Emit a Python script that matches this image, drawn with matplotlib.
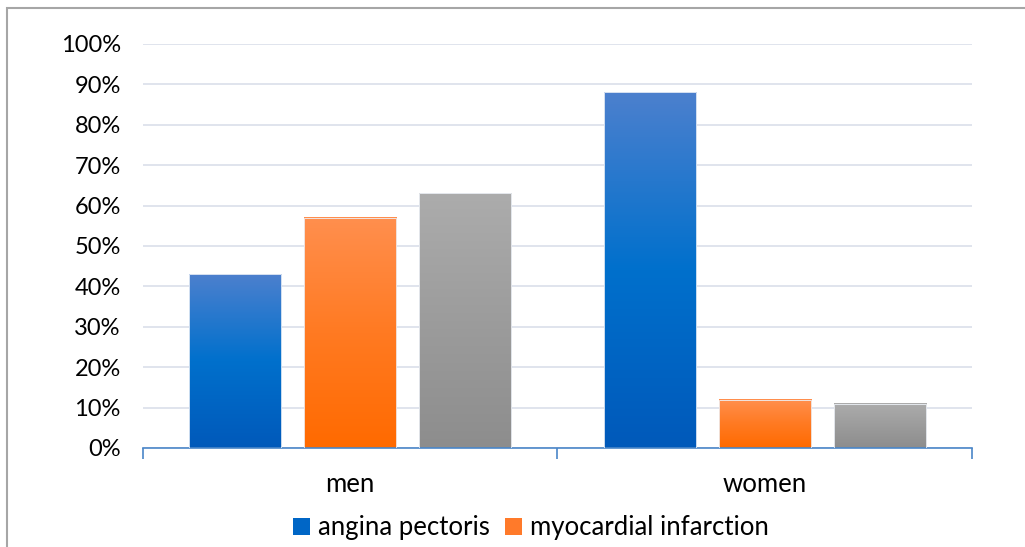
import numpy as np
import matplotlib
matplotlib.use("Agg")
import matplotlib.pyplot as plt
from matplotlib.colors import LinearSegmentedColormap
from matplotlib.patches import Patch, Rectangle

# ── Data ──────────────────────────────────────────────────────────────────
groups = ["men", "women"]
angina = [43, 88]
infarction = [57, 12]
other = [63, 11]
legend_names = ["angina pectoris", "myocardial infarction"]

plt.rcParams["font.family"] = ["Lato", "DejaVu Sans"]

# vertical gradients, bottom -> top
GRADS = [
    ["#0059ba", "#0070cc", "#4c80ce"],
    ["#ff6a00", "#ff7a22", "#ff8f4e"],
    ["#8d8d8d", "#9c9c9c", "#acacac"],
]
SOLID = ["#0066c6", "#ff7a2a"]

BAR_W = 0.222
STEP = 0.2775

fig = plt.figure(figsize=(10.25, 5.47), dpi=100)
ax = fig.add_axes([0.1395, 0.181, 0.8088, 0.7386])

series = [angina, infarction, other]
for k, (vals, stops) in enumerate(zip(series, GRADS)):
    cmap = LinearSegmentedColormap.from_list(f"g{k}", stops)
    grad = np.linspace(0, 1, 256).reshape(-1, 1)
    for i, v in enumerate(vals):
        xc = i + (k - 1) * STEP
        x0, x1 = xc - BAR_W / 2, xc + BAR_W / 2
        ax.imshow(grad, cmap=cmap, origin="lower", aspect="auto",
                  extent=[x0, x1, 0, v], zorder=2)
        ax.add_patch(Rectangle((x0, 0), BAR_W, v, fill=False,
                               edgecolor="#eef2f8", lw=0.6, zorder=3))

ax.set_xlim(-0.5, 1.5)
ax.set_ylim(0, 100)

ax.set_yticks(np.arange(0, 101, 10))
ax.set_yticklabels([f"{t}%" for t in range(0, 101, 10)], fontsize=17)
ax.tick_params(axis="y", length=0, pad=16)
ax.grid(axis="y", color="#dde2ec", lw=1.3, zorder=0)

ax.set_xticks([-0.5, 0.5, 1.5])
ax.set_xticklabels([])
ax.set_xticks([0, 1], minor=True)
ax.set_xticklabels(groups, minor=True, fontsize=18.5)
ax.tick_params(axis="x", which="major", length=8, width=1.2,
               color="#4a86c8", direction="out")
ax.tick_params(axis="x", which="minor", length=0, pad=17)

for s in ["top", "right", "left"]:
    ax.spines[s].set_visible(False)
ax.spines["bottom"].set_color("#4a86c8")
ax.spines["bottom"].set_linewidth(1.2)
ax.set_axisbelow(True)

handles = [Patch(facecolor=c, edgecolor="none") for c in SOLID]
fig.legend(handles, legend_names, loc="center", ncol=2,
           bbox_to_anchor=(0.518, 0.035), frameon=False, fontsize=18.5,
           handlelength=0.65, handleheight=0.65, handletextpad=0.3,
           columnspacing=0.6)

# outer frame around the chart
fig.patches.append(Rectangle((7 / 1025, -0.1), 1.2, 1 - 8 / 547 + 0.1,
                             transform=fig.transFigure, fill=False,
                             edgecolor="#a6a6a6", lw=1.5))

fig.savefig("out.png", dpi=100)
